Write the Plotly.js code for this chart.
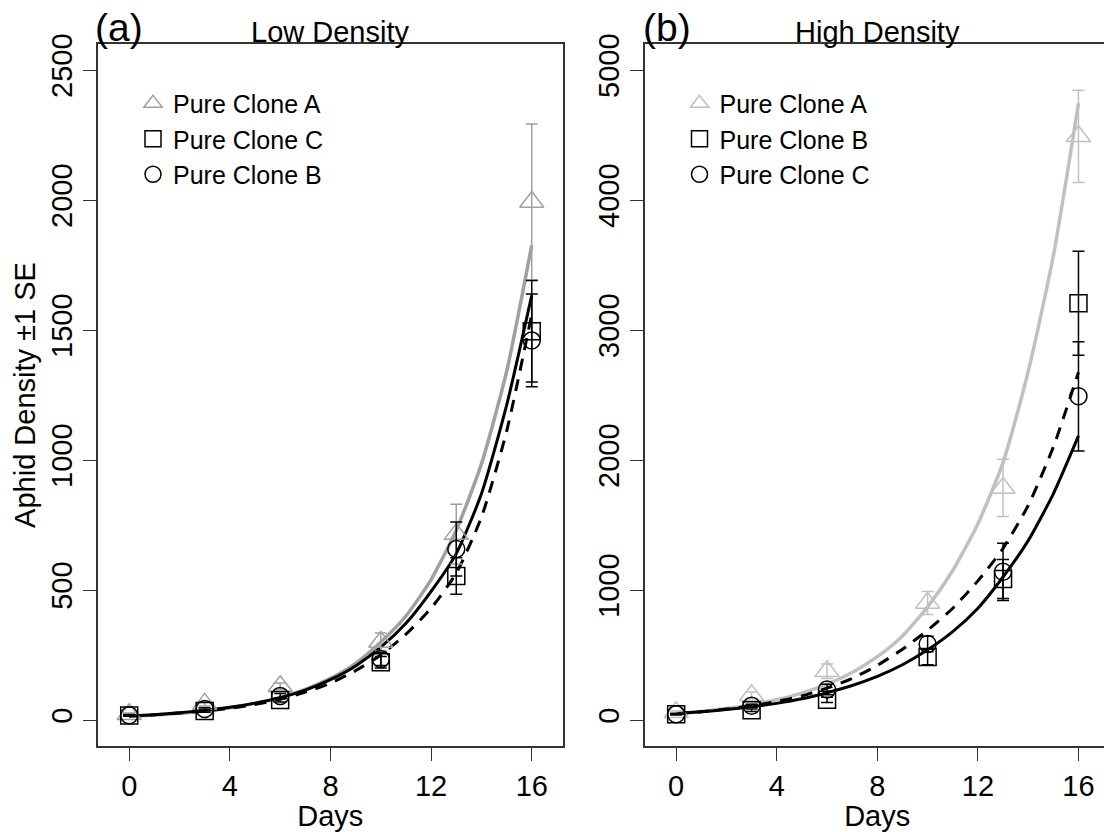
<!DOCTYPE html>
<html>
<head>
<meta charset="utf-8">
<script src="https://cdn.plot.ly/plotly-3.0.1.min.js"></script>
<style>
  html, body { margin: 0; padding: 0; overflow: hidden; background: #ffffff; }
  #chart { width: 1115px; height: 832px; }
</style>
</head>
<body>
<div id="chart"></div>
<script>
// ---------------- data ----------------
const sampleDays = [0, 3, 6, 10, 13, 16];
const curveDays = [0, 1, 2, 3, 4, 5, 6, 7, 8, 9, 10, 11, 12, 13, 14, 15, 16];
const xTickVals = [0, 4, 8, 12, 16];
const yTickValsLow = [0, 500, 1000, 1500, 2000, 2500];
const yTickValsHigh = [0, 1000, 2000, 3000, 4000, 5000];

// (a) Low density - observed means and SE
const lowNames = ["Pure Clone A", "Pure Clone C", "Pure Clone B"];
const lowA = [22, 62, 130, 300, 715, 1992];
const lowA_se = [5, 8, 12, 35, 115, 300];
const lowC = [17, 35, 77, 222, 554, 1495];
const lowC_se = [3, 5, 8, 22, 70, 195];
const lowB = [18, 42, 92, 235, 658, 1460];
const lowB_se = [3, 5, 10, 25, 104, 178];
// (a) fitted curves
const lowFitGrey = [14, 19, 26, 35, 47, 64, 87, 118, 160, 218, 300, 400, 540, 730, 985, 1340, 1826];
const lowFitSolid = [15, 20, 28, 37, 49, 65, 86, 115, 155, 208, 280, 372, 495, 640, 870, 1210, 1633];
const lowFitDash = [15, 20, 27, 35, 45, 60, 80, 107, 142, 190, 250, 330, 430, 565, 780, 1110, 1560];

// (b) High density - observed means and SE
const highNames = ["Pure Clone A", "Pure Clone B", "Pure Clone C"];
const highA = [60, 190, 375, 900, 1785, 4490];
const highA_se = [10, 25, 55, 88, 220, 355];
const highB = [45, 75, 155, 485, 1085, 3205];
const highB_se = [5, 10, 20, 60, 150, 400];
const highC = [45, 110, 235, 585, 1140, 2490];
const highC_se = [5, 12, 40, 60, 220, 420];
// (b) fitted curves
const highFitGrey = [50, 66, 88, 117, 156, 207, 276, 366, 487, 647, 870, 1150, 1510, 1980, 2680, 3570, 4745];
const highFitSolid = [50, 63, 80, 101, 128, 163, 210, 265, 335, 425, 540, 680, 860, 1100, 1380, 1740, 2185];
const highFitDash = [50, 64, 84, 110, 142, 185, 245, 320, 420, 545, 690, 860, 1070, 1320, 1650, 2100, 2675];

// ---------------- styling ----------------
const W = 1115, H = 832;
const px = v => v / W;
const py = v => 1 - v / H;
const FONT = "Liberation Sans, Arial, Helvetica, sans-serif";
const greyLow = "#a0a0a0";
const greyHigh = "#c0c0c0";
const black = "#000000";
const axisCol = "#333333";

function curve(y, xa, ya, color, width, dash) {
  return {
    x: curveDays, y: y, xaxis: xa, yaxis: ya, type: "scatter", mode: "lines",
    line: { color: color, width: width, dash: dash || "solid", shape: "spline", smoothing: 0.6 },
    showlegend: false, hoverinfo: "skip"
  };
}
function points(y, se, name, symbol, size, color, xa, ya, legend) {
  return {
    x: sampleDays, y: y, xaxis: xa, yaxis: ya, type: "scatter", mode: "markers",
    name: name, legend: legend,
    marker: { symbol: symbol, size: size, color: color, line: { color: color, width: 1.5 } },
    error_y: { type: "data", array: se, visible: true, color: color, thickness: 1.5, width: 6 },
    hoverinfo: "x+y+name"
  };
}

const traces = [
  curve(lowFitGrey, "x", "y", greyLow, 3.5),
  curve(lowFitSolid, "x", "y", black, 3),
  curve(lowFitDash, "x", "y", black, 3, "12px,9px"),
  points(lowA, lowA_se, lowNames[0], "triangle-up-open", 21, greyLow, "x", "y", "legend"),
  points(lowC, lowC_se, lowNames[1], "square-open", 17, black, "x", "y", "legend"),
  points(lowB, lowB_se, lowNames[2], "circle-open", 17, black, "x", "y", "legend"),

  curve(highFitGrey, "x2", "y2", greyHigh, 3.5),
  curve(highFitSolid, "x2", "y2", black, 3),
  curve(highFitDash, "x2", "y2", black, 3, "12px,9px"),
  points(highA, highA_se, highNames[0], "triangle-up-open", 21, greyHigh, "x2", "y2", "legend2"),
  points(highB, highB_se, highNames[1], "square-open", 17, black, "x2", "y2", "legend2"),
  points(highC, highC_se, highNames[2], "circle-open", 17, black, "x2", "y2", "legend2")
];

function xAxis(domain, anchor) {
  return {
    domain: domain, anchor: anchor, range: [-1.24, 17.23],
    tickmode: "array", tickvals: xTickVals, ticktext: xTickVals.map(String),
    ticks: "outside", ticklen: 13, tickwidth: 1.3, tickcolor: axisCol,
    showline: true, mirror: true, linecolor: axisCol, linewidth: 1.5,
    showgrid: false, zeroline: false,
    tickfont: { family: FONT, size: 29, color: "#000" },
    title: { text: "Days", font: { family: FONT, size: 29, color: "#000" }, standoff: 3 },
    automargin: false
  };
}
function yAxis(domain, anchor, range, vals, title) {
  const ax = {
    domain: domain, anchor: anchor, range: range,
    tickmode: "array", tickvals: vals, ticktext: vals.map(String), tickangle: -90,
    ticks: "outside", ticklen: 13, tickwidth: 1.3, tickcolor: axisCol,
    showline: true, mirror: true, linecolor: axisCol, linewidth: 1.5,
    showgrid: false, zeroline: false,
    tickfont: { family: FONT, size: 29, color: "#000" },
    automargin: false
  };
  if (title) ax.title = { text: title, font: { family: FONT, size: 29, color: "#000" }, standoff: 2 };
  return ax;
}

const legendBase = {
  xanchor: "left", yanchor: "top", bgcolor: "rgba(0,0,0,0)", borderwidth: 0,
  font: { family: FONT, size: 25, color: "#000" }, tracegroupgap: 0, traceorder: "normal"
};

const layout = {
  width: W, height: H,
  margin: { l: 0, r: 0, t: 0, b: 0, pad: 0 },
  paper_bgcolor: "#ffffff", plot_bgcolor: "#ffffff",
  font: { family: FONT, color: "#000" },
  xaxis: xAxis([px(98), px(562.7)], "y"),
  yaxis: yAxis([py(746), py(44)], "x", [-100, 2600], yTickValsLow, "Aphid Density ±1 SE"),
  xaxis2: xAxis([px(645), px(1109.4)], "y2"),
  yaxis2: yAxis([py(746), py(44)], "x2", [-200, 5200], yTickValsHigh, null),
  legend: Object.assign({}, legendBase, { x: px(133), y: py(80.5) }),
  legend2: Object.assign({}, legendBase, { x: px(679.5), y: py(80.5) }),
  annotations: [
    { text: "(a)", xref: "paper", yref: "paper", x: px(93), y: py(28), xanchor: "left", yanchor: "middle",
      showarrow: false, font: { family: FONT, size: 39, color: "#000" } },
    { text: "Low Density", xref: "paper", yref: "paper", x: px(330.4), y: py(32), xanchor: "center", yanchor: "middle",
      showarrow: false, font: { family: FONT, size: 29, color: "#000" } },
    { text: "(b)", xref: "paper", yref: "paper", x: px(641), y: py(28), xanchor: "left", yanchor: "middle",
      showarrow: false, font: { family: FONT, size: 39, color: "#000" } },
    { text: "High Density", xref: "paper", yref: "paper", x: px(877), y: py(32), xanchor: "center", yanchor: "middle",
      showarrow: false, font: { family: FONT, size: 29, color: "#000" } }
  ],
  showlegend: true
};

Plotly.newPlot("chart", traces, layout, { displayModeBar: false, responsive: false });
</script>
</body>
</html>
